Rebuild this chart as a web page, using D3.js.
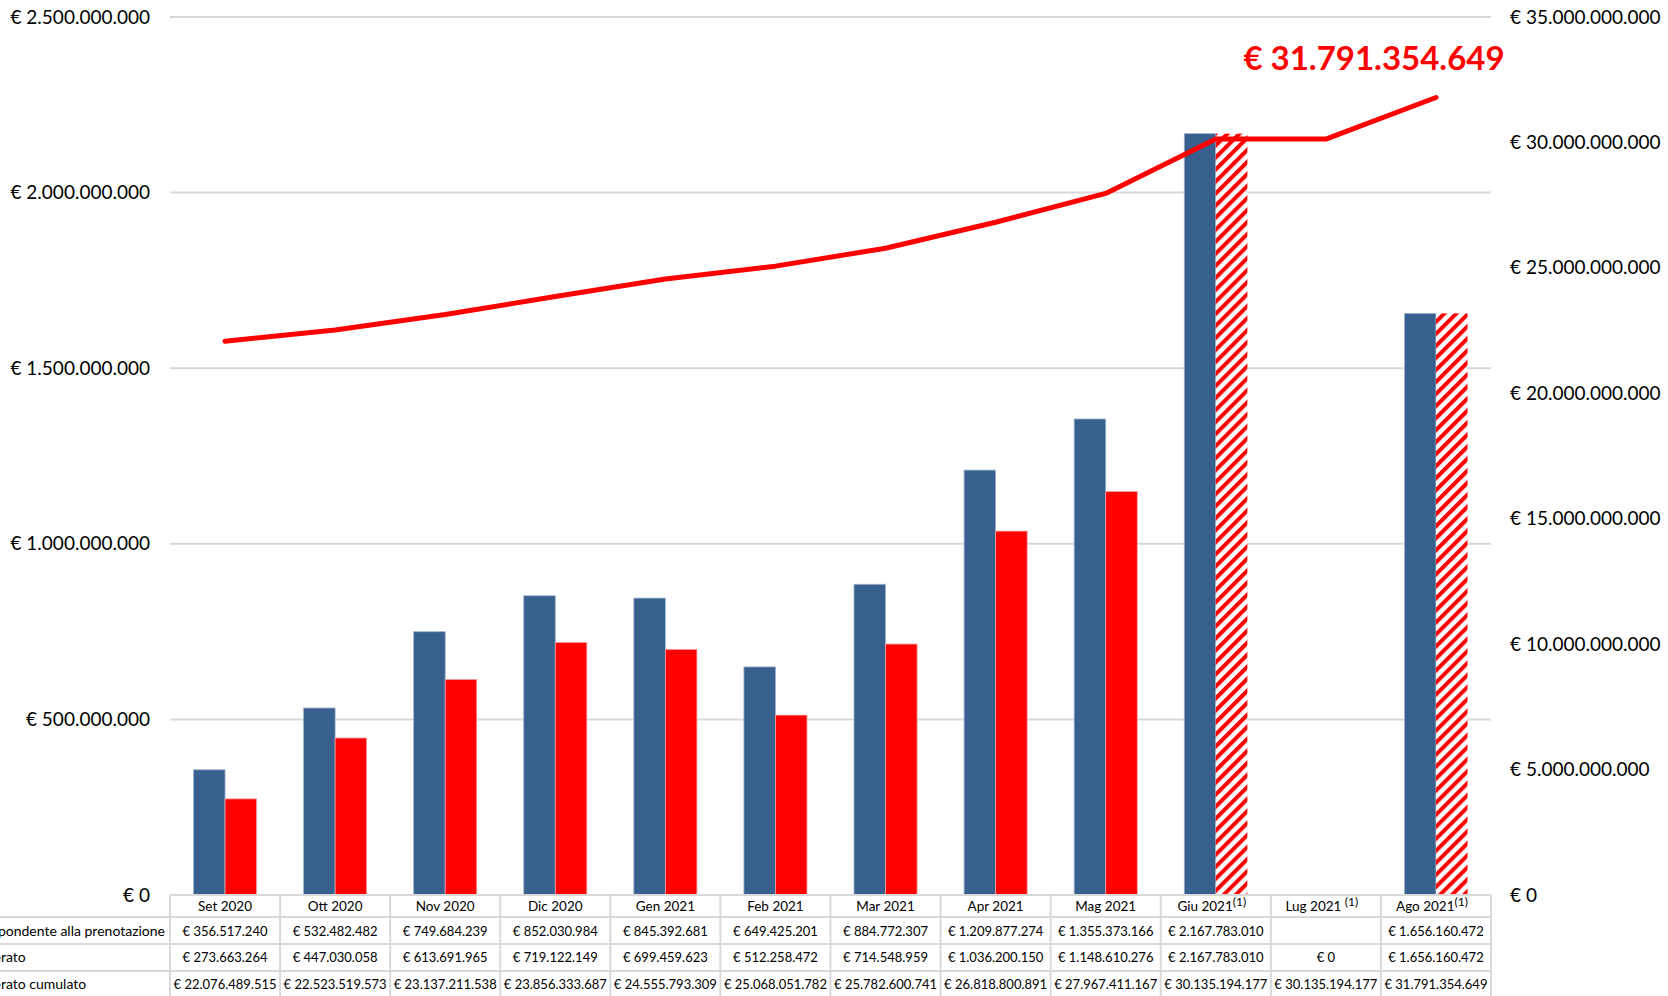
<!DOCTYPE html>
<html>
<head>
<meta charset="utf-8">
<script src="https://cdn.jsdelivr.net/npm/d3@7/dist/d3.min.js"></script>
<style>
  html, body { margin: 0; padding: 0; background: #fff; }
  svg { display: block; }
  text { font-family: Lato, "Open Sans", sans-serif; fill: #000; }
</style>
</head>
<body>
<svg id="chart" width="1668" height="996"></svg>
<script>
// ---- Data ----
const categories = ["Set 2020","Ott 2020","Nov 2020","Dic 2020","Gen 2021","Feb 2021","Mar 2021","Apr 2021","Mag 2021","Giu 2021","Lug 2021","Ago 2021"];
const footnoteFlags = [false,false,false,false,false,false,false,false,false,true,true,true];
const prenotazione = [356517240,532482482,749684239,852030984,845392681,649425201,884772307,1209877274,1355373166,2167783010,null,1656160472];
const deliberato = [273663264,447030058,613691965,719122149,699459623,512258472,714548959,1036200150,1148610276,2167783010,0,1656160472];
const cumulato = [22076489515,22523519573,23137211538,23856333687,24555793309,25068051782,25782600741,26818800891,27967411167,30135194177,30135194177,31791354649];
const hatched = [false,false,false,false,false,false,false,false,false,true,true,true];
const rowLabels = ["Importo corrispondente alla prenotazione","Importo deliberato","Importo deliberato cumulato"];
const leftTicks = [0,500000000,1000000000,1500000000,2000000000,2500000000];
const rightTicks = [0,5000000000,10000000000,15000000000,20000000000,25000000000,30000000000,35000000000];
const finalLabel = "€ 31.791.354.649";

// ---- Setup ----
const svg = d3.select("#chart");
const plotLeft = 170, plotRight = 1491, plotTop = 17, plotBottom = 895;
const it = d3.formatLocale({decimal: ",", thousands: ".", grouping: [3], currency: ["€ ", ""]});
const fmt = v => "€ " + it.format(",.0f")(v);

const x = d3.scaleBand().domain(categories).range([plotLeft, plotRight]).padding(0);
const groupFrac = 0.573;
const xs = d3.scaleBand().domain(["p","d"]).range([0, x.bandwidth()*groupFrac]).padding(0);
const groupOff = x.bandwidth()*(1-groupFrac)/2;
const yL = d3.scaleLinear().domain([0, 2500000000]).range([plotBottom, plotTop]);
const yR = d3.scaleLinear().domain([0, 35000000000]).range([plotBottom, plotTop]);

// hatch pattern
const defs = svg.append("defs");
const pat = defs.append("pattern").attr("id","hatch").attr("patternUnits","userSpaceOnUse")
  .attr("width", 8.5).attr("height", 8.5).attr("patternTransform","rotate(45)");
pat.append("rect").attr("width",8.5).attr("height",8.5).attr("fill","#fff");
pat.append("rect").attr("x",0).attr("width",4).attr("height",8.5).attr("fill","#ff0000");

// gridlines
svg.append("g").selectAll("line").data(leftTicks.filter(d => d > 0)).join("line")
  .attr("x1", plotLeft).attr("x2", plotRight)
  .attr("y1", d => yL(d)).attr("y2", d => yL(d))
  .attr("stroke", "#d9d9d9").attr("stroke-width", 2);

// left axis
const axL = d3.axisLeft(yL).tickValues(leftTicks).tickFormat(fmt).tickSize(0).tickPadding(0);
const gL = svg.append("g").attr("transform", "translate(150,0)").call(axL);
gL.select(".domain").remove();
gL.selectAll("text").attr("font-size", 19).attr("font-family", "Lato").attr("fill", "#000");

// right axis
const axR = d3.axisRight(yR).tickValues(rightTicks).tickFormat(fmt).tickSize(0).tickPadding(0);
const gR = svg.append("g").attr("transform", "translate(1510,0)").call(axR);
gR.select(".domain").remove();
gR.selectAll("text").attr("font-size", 19).attr("font-family", "Lato").attr("fill", "#000");

// bars
const barsG = svg.append("g");
categories.forEach((c, i) => {
  const gx = x(c) + groupOff;
  if (prenotazione[i] != null) {
    barsG.append("rect")
      .attr("x", gx + xs("p")).attr("width", xs.bandwidth())
      .attr("y", yL(prenotazione[i])).attr("height", yL(0) - yL(prenotazione[i]))
      .attr("fill", "#37608f").attr("stroke", "#9fb3cc").attr("stroke-width", 0.8);
  }
  if (deliberato[i] != null && deliberato[i] > 0) {
    barsG.append("rect")
      .attr("x", gx + xs("d")).attr("width", xs.bandwidth())
      .attr("y", yL(deliberato[i])).attr("height", yL(0) - yL(deliberato[i]))
      .attr("fill", hatched[i] ? "url(#hatch)" : "#ff0000")
      .attr("stroke", hatched[i] ? "none" : "#f4a0a0").attr("stroke-width", 0.8);
  }
});

// cumulative line
const line = d3.line().x((d, i) => x(categories[i]) + x.bandwidth()/2).y(d => yR(d));
svg.append("path").datum(cumulato).attr("d", line)
  .attr("fill", "none").attr("stroke", "#ff0000").attr("stroke-width", 5)
  .attr("stroke-linecap", "round").attr("stroke-linejoin", "round");

// final label
svg.append("text").attr("x", 1374).attr("y", 70).attr("text-anchor", "middle")
  .attr("font-size", 33).attr("font-weight", "bold").style("fill", "#ff0000")
  .text(finalLabel);

// ---- Table ----
const tbl = svg.append("g");
const rowLines = [895, 917, 944, 971, 998];
const gridCol = "#d9d9d9";
tbl.append("line").attr("x1", plotLeft).attr("x2", plotRight).attr("y1", rowLines[0]).attr("y2", rowLines[0])
  .attr("stroke", gridCol).attr("stroke-width", 2);
rowLines.slice(1).forEach(y => {
  tbl.append("line").attr("x1", 0).attr("x2", plotRight).attr("y1", y).attr("y2", y)
    .attr("stroke", gridCol).attr("stroke-width", 2);
});
const colEdges = categories.map(c => x(c)).concat([plotRight]);
colEdges.forEach(xx => {
  tbl.append("line").attr("x1", xx).attr("x2", xx).attr("y1", rowLines[0]).attr("y2", 996)
    .attr("stroke", gridCol).attr("stroke-width", 2);
});
// header
categories.forEach((c, i) => {
  const t = tbl.append("text").attr("x", x(c) + x.bandwidth()/2 + (footnoteFlags[i] ? -4 : 0))
    .attr("y", 911).attr("text-anchor", "middle").attr("font-size", 13.5);
  t.append("tspan").text(c + (i === 10 ? " " : ""));
  if (footnoteFlags[i]) {
    t.append("tspan").attr("font-size", 12).attr("dy", -5).text("(1)");
  }
});
// rows
const rows = [prenotazione, deliberato, cumulato];
const rowY = [936, 962, 989];
const labelTexts = rows.map((arr, r) => tbl.append("text").attr("y", rowY[r])
  .attr("text-anchor", "start").attr("font-size", 14).text(rowLabels[r]));
const firstW = labelTexts[0].node().getComputedTextLength();
const labelX = 165 - firstW;
labelTexts.forEach(t => t.attr("x", labelX));

rows.forEach((arr, r) => {
  arr.forEach((v, i) => {
    if (v == null) return;
    tbl.append("text").attr("x", x(categories[i]) + x.bandwidth()/2).attr("y", rowY[r])
      .attr("text-anchor", "middle").attr("font-size", 13).text(fmt(v));
  });
});
</script>
</body>
</html>
